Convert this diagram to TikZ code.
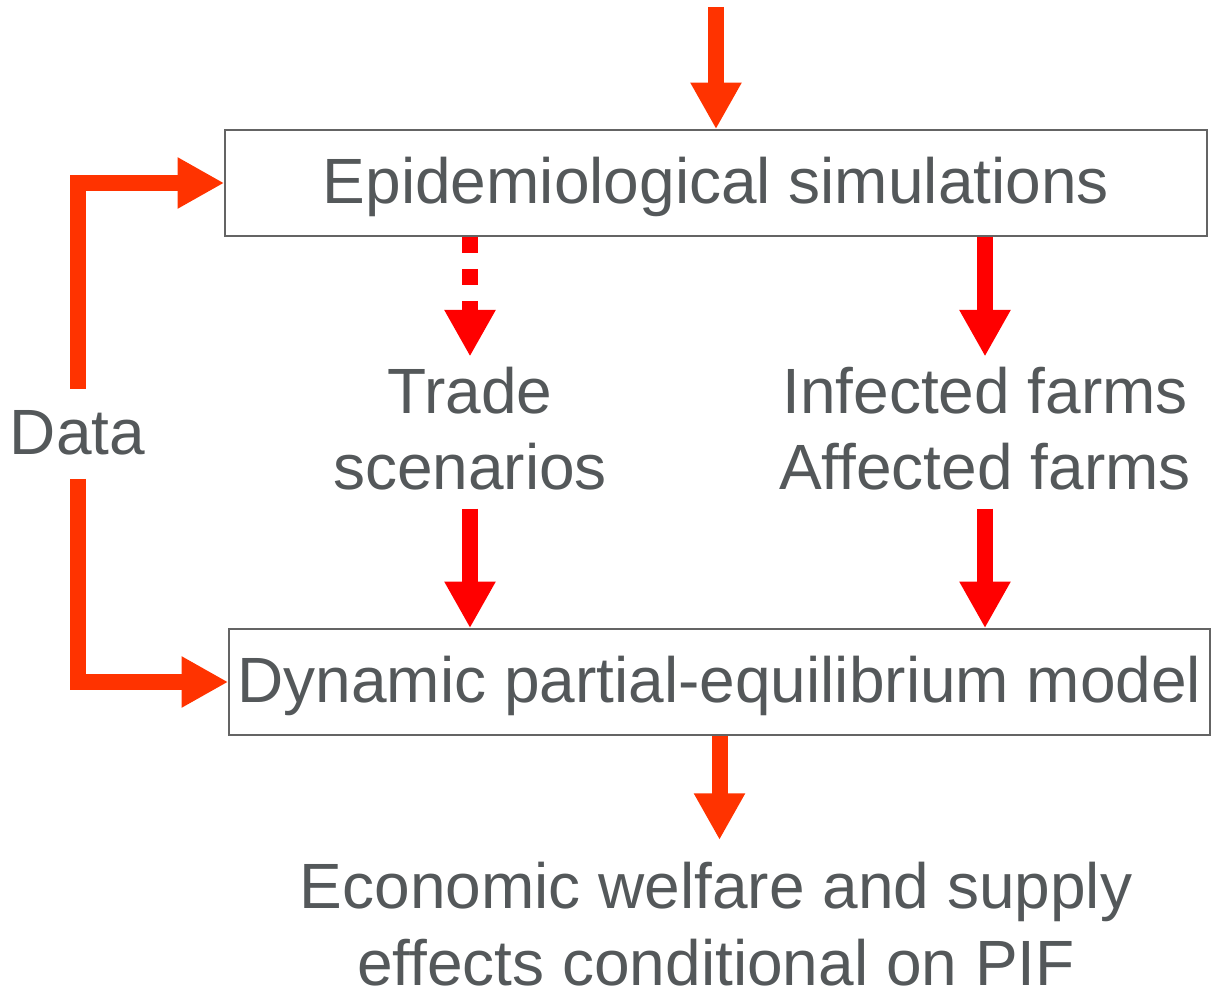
\documentclass[tikz,border=0pt]{standalone}
\usepackage{fontspec}
\setmainfont{Liberation Sans}
\usetikzlibrary{arrows.meta,calc}
\definecolor{txt}{RGB}{84,88,90}
\definecolor{boxline}{RGB}{100,100,100}
\definecolor{orng}{RGB}{255,51,0}
\definecolor{rd}{RGB}{255,0,0}
\begin{document}
\begin{tikzpicture}[x=0.75pt,y=-0.75pt,
  every node/.style={text=txt, font=\fontsize{48}{57.4}\selectfont},
  box/.style={draw=boxline, line width=1.2pt, inner xsep=0pt, inner ysep=0pt},
  lbl/.style={align=center, inner sep=0pt},
  blk/.style={line width=12pt, line join=miter, -{Triangle[length=35pt,width=36pt]}},
  ]
\useasboundingbox (0,0) rectangle (1211,994);

\node[box, minimum width=736.5pt, text height=55.5pt, text depth=24pt] (epi) at (716,183) {Epidemiological simulations};
\node[box, minimum width=735.75pt, text height=54.75pt, text depth=24.75pt] (dyn) at (719.5,682) {Dynamic partial-equilibrium model};

\node[lbl] (trade) at (470,428.6) {Trade\\scenarios};
\node[lbl] (inf) at (985,428.6) {Infected farms\\Affected farms};
\node[lbl] (econ) at (716,924) {Economic welfare and supply\\effects conditional on PIF};
\node[inner sep=0pt, anchor=base] (data) at (77.5,455) {Data};

\coordinate (src) at (716,7);
\draw[blk, orng] (src) -- (epi.north);

\draw[blk, rd, dash pattern=on 12pt off 12pt] (epi.south -| trade.north) -- ($(trade.north)+(0,-10)$);
\draw[blk, rd] (epi.south -| inf.north) -- ($(inf.north)+(0,-10)$);
\draw[blk, rd] ($(trade.south)+(0,18)$) -- (dyn.north -| trade.south);
\draw[blk, rd] ($(inf.south)+(0,18)$) -- (dyn.north -| inf.south);

\draw[blk, orng] ($(data.north)+(0,-22)$) |- (epi.west);
\draw[blk, orng] ($(data.south)+(0,23)$) |- (dyn.west);

\draw[blk, orng] (dyn.south) -- ($(econ.north -| dyn.south)+(0,-22)$);
\end{tikzpicture}
\end{document}
